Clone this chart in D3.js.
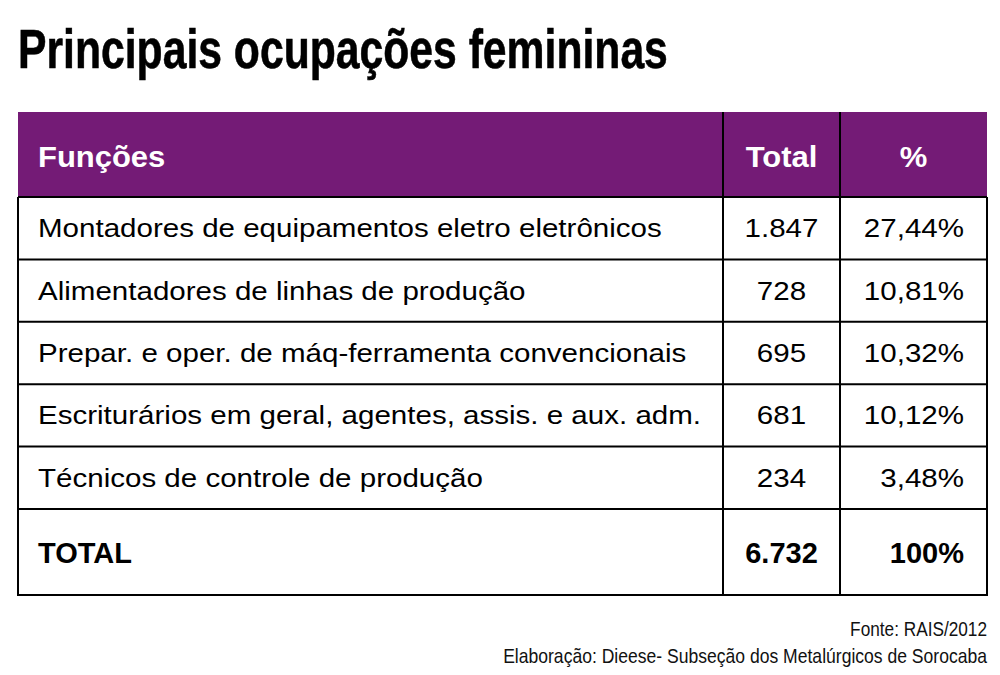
<!DOCTYPE html>
<html><head><meta charset="utf-8">
<script src="https://cdn.jsdelivr.net/npm/d3@7"></script>
<style>body{margin:0;background:#fff}svg{display:block}</style>
</head><body>
<svg id="c" width="1000" height="675"></svg>
<script>
const title = "Principais ocupações femininas";
const headers = ["Funções", "Total", "%"];
const funcoes = [
  "Montadores de equipamentos eletro eletrônicos",
  "Alimentadores de linhas de produção",
  "Prepar. e oper. de máq-ferramenta convencionais",
  "Escriturários em geral, agentes, assis. e aux. adm.",
  "Técnicos de controle de produção"
];
const totais = ["1.847", "728", "695", "681", "234"];
const percentuais = ["27,44%", "10,81%", "10,32%", "10,12%", "3,48%"];
const totalLabel = "TOTAL";
const totalGeral = "6.732";
const totalPct = "100%";
const fonte = "Fonte: RAIS/2012";
const elaboracao = "Elaboração: Dieese- Subseção dos Metalúrgicos de Sorocaba";

const svg = d3.select("#c");
const purple = "#741b76";
const L = 18, R = 987, c1 = 723, c2 = 840;
const headTop = 112, headBot = 197, bodyBot = 509, tableBot = 595;
const hf = "'Liberation Sans',Arial,Helvetica,sans-serif";

const y = d3.scaleBand().domain(d3.range(funcoes.length)).range([headBot, bodyBot]);

function txt(sel, x, yy, s, opts) {
  const o = Object.assign({size: 26.5, sx: 1.115, anchor: "start", weight: "normal", fill: "#000"}, opts || {});
  return sel.append("text")
    .attr("transform", `translate(${x},${yy}) scale(${o.sx},1)`)
    .attr("text-anchor", o.anchor)
    .attr("font-family", hf).attr("font-weight", o.weight).attr("font-size", o.size)
    .attr("fill", o.fill).text(s);
}
// text squeezed horizontally to a target width via a scale transform
function fitTxt(x, yy, s, width, opts) {
  const t = txt(svg, x, yy, s, Object.assign({sx: 1}, opts));
  const w = t.node().getComputedTextLength();
  t.attr("transform", `translate(${x},${yy}) scale(${width / w},1)`);
  return t;
}

// title
fitTxt(18, 68, title, 650, {size: 55, weight: "bold"}).attr("stroke", "#000").attr("stroke-width", 0.6);

// header
svg.append("rect").attr("x", L).attr("y", headTop).attr("width", R - L).attr("height", headBot - headTop).attr("fill", purple);
const hy = 167;
const hopt = {size: 29.5, sx: 1.05, weight: "bold", fill: "#fff"};
txt(svg, 38, hy, headers[0], hopt);
txt(svg, (c1 + c2) / 2, hy, headers[1], Object.assign({}, hopt, {anchor: "middle"}));
txt(svg, (c2 + R) / 2, hy, headers[2], Object.assign({}, hopt, {anchor: "middle"}));

// rows
funcoes.forEach((d, i) => {
  const by = y(i) + y.bandwidth() / 2 + 9;
  txt(svg, 38, by, d);
  txt(svg, (c1 + c2) / 2, by, totais[i], {anchor: "middle"});
  txt(svg, 964, by, percentuais[i], {anchor: "end"});
});

// total row
const ty = 563;
const topt = {size: 29, sx: 1.0, weight: "bold"};
txt(svg, 38, ty, totalLabel, topt);
txt(svg, (c1 + c2) / 2, ty, totalGeral, Object.assign({}, topt, {anchor: "middle"}));
txt(svg, 964, ty, totalPct, Object.assign({}, topt, {anchor: "end"}));

// grid lines
const g = svg.append("g").attr("stroke", "#000").attr("stroke-width", 2).attr("fill", "none");
const hlines = d3.range(1, funcoes.length).map(i => y(i)).concat([bodyBot, tableBot]);
g.selectAll("line.h").data(hlines).join("line").attr("class", "h")
  .attr("x1", L).attr("x2", R).attr("y1", d => d).attr("y2", d => d);
g.append("line").attr("x1", L).attr("x2", R).attr("y1", headBot).attr("y2", headBot);
g.append("line").attr("x1", L).attr("x2", L).attr("y1", headBot).attr("y2", tableBot + 1);
g.append("line").attr("x1", R).attr("x2", R).attr("y1", headBot).attr("y2", tableBot + 1);
g.selectAll("line.v").data([c1, c2]).join("line").attr("class", "v")
  .attr("x1", d => d).attr("x2", d => d).attr("y1", headTop).attr("y2", tableBot);

// footer
fitTxt(R, 636, fonte, 137, {size: 20.5, anchor: "end", fill: "#111"});
fitTxt(R, 663, elaboracao, 484, {size: 20.5, anchor: "end", fill: "#111"});
</script>
</body></html>
